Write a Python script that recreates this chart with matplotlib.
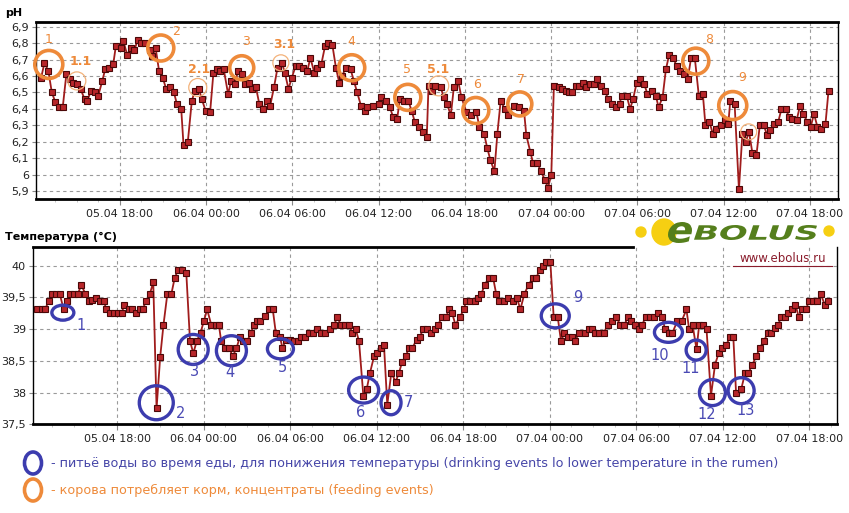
import matplotlib.pyplot as plt
from matplotlib.patches import Ellipse, PathPatch
from matplotlib.textpath import TextPath
from matplotlib.font_manager import FontProperties
from matplotlib.transforms import Affine2D
import numpy as np

plt.rcParams['font.family'] = ['DejaVu Sans']

# hours counted from 05.04 00:00
ph_hours = [12.53, 12.76, 13.03, 13.27, 13.52, 13.77, 14.03, 14.28, 14.53, 14.77, 15.04, 15.27, 15.55, 15.74,
            15.99, 16.27, 16.50, 16.78, 16.98, 17.24, 17.54, 17.72, 18.05, 18.25, 18.51, 18.79, 19.02, 19.25,
            19.50, 19.78, 20.08, 20.26, 20.49, 20.73, 20.98, 21.23, 21.51, 21.76, 21.97, 22.27, 22.43, 22.73,
            23.01, 23.22, 23.50, 23.70, 23.96, 24.28, 24.51, 24.77, 25.00, 25.23, 25.53, 25.74, 25.99, 26.22,
            26.48, 26.73, 26.96, 27.19, 27.47, 27.70, 27.98, 28.21, 28.46, 28.72, 28.97, 29.27, 29.48, 29.73,
            29.96, 30.23, 30.49, 30.76, 31.04, 31.25, 31.53, 31.74, 32.01, 32.27, 32.50, 32.78, 33.03, 33.26,
            33.47, 33.70, 34.05, 34.28, 34.51, 34.77, 35.02, 35.21, 35.58, 36.02, 36.16, 36.50, 36.78, 37.01,
            37.29, 37.48, 37.78, 38.06, 38.29, 38.52, 38.80, 39.10, 39.35, 39.47, 39.72, 39.95, 40.32, 40.53,
            40.76, 41.02, 41.23, 41.53, 41.76, 42.11, 42.45, 42.80, 43.01, 43.33, 43.56, 43.77, 44.05, 44.26,
            44.49, 44.77, 45.02, 45.39, 45.76, 46.11, 46.27, 46.55, 46.74, 47.04, 47.29, 47.55, 47.78, 48.01,
            48.19, 48.52, 48.76, 49.03, 49.25, 49.45, 49.73, 49.97, 50.20, 50.43, 50.67, 50.97, 51.20, 51.48,
            51.72, 51.97, 52.21, 52.48, 52.76, 52.90, 53.25, 53.49, 53.70, 53.95, 54.19, 54.47, 54.70, 54.98,
            55.28, 55.47, 55.75, 55.98, 56.21, 56.49, 56.73, 56.96, 57.26, 57.50, 57.73, 57.99, 58.27, 58.55,
            58.73, 59.01, 59.24, 59.48, 59.83, 60.06, 60.32, 60.46, 60.76, 61.06, 61.30, 61.53, 61.76, 62.00,
            62.28, 62.51, 62.79, 63.02, 63.25, 63.49, 63.79, 64.02, 64.30, 64.56, 64.77, 65.07, 65.31, 65.54,
            65.82, 66.05, 66.28, 66.52, 66.80, 67.08, 67.29]
ph_vals = [6.59, 6.68, 6.63, 6.50, 6.44, 6.41, 6.41, 6.61, 6.58, 6.56, 6.55, 6.52, 6.46, 6.45,
           6.51, 6.50, 6.48, 6.57, 6.64, 6.65, 6.67, 6.78, 6.77, 6.81, 6.73, 6.77, 6.76, 6.82,
           6.80, 6.80, 6.76, 6.72, 6.77, 6.63, 6.59, 6.52, 6.53, 6.50, 6.43, 6.40, 6.18, 6.20,
           6.45, 6.51, 6.52, 6.46, 6.39, 6.38, 6.62, 6.64, 6.63, 6.64, 6.49, 6.57, 6.55, 6.63,
           6.61, 6.55, 6.56, 6.52, 6.53, 6.43, 6.40, 6.45, 6.42, 6.53, 6.65, 6.68, 6.62, 6.52,
           6.59, 6.66, 6.66, 6.65, 6.63, 6.71, 6.62, 6.65, 6.67, 6.78, 6.80, 6.79, 6.65, 6.56,
           6.60, 6.65, 6.64, 6.57, 6.50, 6.42, 6.39, 6.41, 6.42, 6.43, 6.47, 6.45, 6.41, 6.35,
           6.34, 6.46, 6.45, 6.45, 6.39, 6.32, 6.29, 6.26, 6.23, 6.54, 6.51, 6.54, 6.53, 6.47,
           6.43, 6.36, 6.53, 6.57, 6.47, 6.38, 6.36, 6.38, 6.29, 6.25, 6.16, 6.09, 6.02, 6.25,
           6.45, 6.40, 6.36, 6.42, 6.41, 6.39, 6.24, 6.14, 6.07, 6.07, 6.02, 5.97, 5.92, 6.00,
           6.54, 6.53, 6.52, 6.51, 6.50, 6.50, 6.54, 6.54, 6.56, 6.53, 6.55, 6.55, 6.58, 6.54,
           6.51, 6.46, 6.43, 6.41, 6.43, 6.48, 6.48, 6.40, 6.46, 6.56, 6.58, 6.55, 6.49, 6.51,
           6.48, 6.41, 6.47, 6.64, 6.73, 6.71, 6.66, 6.63, 6.61, 6.58, 6.71, 6.71, 6.48, 6.49,
           6.30, 6.32, 6.25, 6.28, 6.30, 6.33, 6.31, 6.45, 6.43, 5.91, 6.25, 6.20, 6.26, 6.13,
           6.12, 6.30, 6.30, 6.24, 6.27, 6.31, 6.32, 6.40, 6.40, 6.35, 6.34, 6.33, 6.42, 6.37,
           6.32, 6.29, 6.37, 6.29, 6.28, 6.31, 6.51]

temp_hours = [12.48, 12.76, 13.03, 13.26, 13.49, 13.75, 14.02, 14.30, 14.53, 14.76, 15.01, 15.29, 15.52, 15.79,
              16.02, 16.28, 16.55, 16.83, 17.08, 17.24, 17.54, 17.82, 18.09, 18.32, 18.51, 18.80, 19.03, 19.31,
              19.59, 19.79, 20.02, 20.28, 20.51, 20.74, 20.99, 21.22, 21.49, 21.77, 22.00, 22.25, 22.53, 22.80,
              23.06, 23.29, 23.52, 23.79, 24.02, 24.25, 24.53, 24.83, 25.06, 25.22, 25.52, 25.79, 26.02, 26.28,
              26.51, 26.74, 27.01, 27.29, 27.47, 27.70, 27.93, 28.28, 28.57, 28.80, 29.01, 29.31, 29.47, 29.70,
              29.98, 30.28, 30.55, 30.78, 31.02, 31.32, 31.59, 31.89, 32.12, 32.42, 32.75, 33.05, 33.28, 33.51,
              33.78, 34.08, 34.32, 34.55, 34.78, 35.08, 35.31, 35.54, 35.82, 36.05, 36.28, 36.51, 36.74, 37.02,
              37.32, 37.55, 37.78, 38.01, 38.24, 38.47, 38.77, 39.00, 39.23, 39.51, 39.79, 40.02, 40.25, 40.55,
              40.82, 41.01, 41.24, 41.47, 41.77, 42.05, 42.21, 42.51, 42.79, 43.02, 43.27, 43.50, 43.78, 44.08,
              44.29, 44.52, 44.82, 45.09, 45.44, 45.74, 45.97, 46.25, 46.55, 46.82, 47.08, 47.31, 47.54, 47.77,
              48.05, 48.28, 48.56, 48.79, 49.02, 49.25, 49.55, 49.78, 50.01, 50.42, 50.70, 50.93, 51.16, 51.44,
              51.74, 52.05, 52.33, 52.60, 52.91, 53.19, 53.42, 53.67, 53.95, 54.19, 54.42, 54.65, 54.93, 55.23,
              55.51, 55.81, 56.00, 56.28, 56.51, 56.86, 57.16, 57.49, 57.67, 57.91, 58.19, 58.37, 58.65, 58.88,
              59.19, 59.47, 59.72, 59.95, 60.23, 60.51, 60.74, 60.93, 61.28, 61.56, 61.79, 62.05, 62.33, 62.56,
              62.84, 63.14, 63.33, 63.60, 63.84, 64.07, 64.30, 64.53, 64.81, 65.05, 65.28, 65.47, 65.77, 66.00,
              66.28, 66.56, 66.79, 67.09, 67.33]
temp_vals = [39.32, 39.32, 39.32, 39.45, 39.56, 39.56, 39.56, 39.31, 39.45, 39.56, 39.56, 39.56, 39.70, 39.56,
             39.45, 39.46, 39.49, 39.45, 39.45, 39.32, 39.26, 39.26, 39.26, 39.26, 39.38, 39.31, 39.32, 39.26,
             39.32, 39.32, 39.45, 39.56, 39.74, 37.75, 38.56, 39.07, 39.56, 39.56, 39.81, 39.94, 39.94, 39.89,
             38.81, 38.62, 38.81, 38.94, 39.13, 39.31, 39.07, 39.07, 39.07, 38.81, 38.70, 38.70, 38.57, 38.70,
             38.87, 38.81, 38.81, 38.94, 39.07, 39.13, 39.13, 39.20, 39.31, 39.31, 38.94, 38.87, 38.70, 38.83,
             38.83, 38.81, 38.81, 38.87, 38.87, 38.94, 38.94, 39.00, 38.94, 38.94, 39.00, 39.07, 39.19, 39.07,
             39.07, 39.07, 38.94, 39.00, 38.81, 37.95, 38.05, 38.31, 38.57, 38.62, 38.70, 38.75, 37.81, 38.31,
             38.17, 38.31, 38.49, 38.57, 38.70, 38.70, 38.83, 38.88, 39.00, 39.00, 38.94, 39.00, 39.07, 39.19,
             39.19, 39.31, 39.25, 39.07, 39.19, 39.31, 39.45, 39.45, 39.45, 39.49, 39.56, 39.70, 39.81, 39.81,
             39.56, 39.45, 39.45, 39.49, 39.45, 39.49, 39.31, 39.56, 39.70, 39.81, 39.81, 39.94, 40.00, 40.06,
             40.06, 39.19, 39.19, 38.81, 38.94, 38.88, 38.88, 38.81, 38.94, 38.94, 39.00, 39.00, 38.94, 38.94,
             38.94, 39.07, 39.13, 39.19, 39.07, 39.07, 39.19, 39.13, 39.07, 39.00, 39.07, 39.19, 39.19, 39.19,
             39.25, 39.19, 39.00, 38.94, 38.94, 39.13, 39.13, 39.31, 39.00, 39.07, 38.68, 39.07, 39.07, 39.00,
             37.95, 38.44, 38.62, 38.70, 38.75, 38.87, 38.87, 37.99, 38.05, 38.31, 38.31, 38.44, 38.57, 38.70,
             38.81, 38.94, 38.94, 39.02, 39.07, 39.19, 39.19, 39.25, 39.31, 39.38, 39.19, 39.31, 39.31, 39.45,
             39.45, 39.45, 39.56, 39.38, 39.45]

tick_hours = [18, 24, 30, 36, 42, 48, 54, 60, 66]
tick_labels = ['05.04 18:00', '06.04 00:00', '06.04 06:00', '06.04 12:00', '06.04 18:00',
               '07.04 00:00', '07.04 06:00', '07.04 12:00', '07.04 18:00']

# feeding events (orange) on pH chart
feed_ids = ['1', '1.1', '2', '2.1', '3', '3.1', '4', '5', '5.1', '6', '7', '8', '9', '']
feed_x = [13.06, 15.01, 20.85, 23.42, 26.48, 29.20, 34.13, 38.03, 40.18, 42.76, 45.82, 58.06, 60.63, 61.74]
feed_y = [6.67, 6.57, 6.77, 6.53, 6.65, 6.68, 6.65, 6.47, 6.54, 6.39, 6.43, 6.69, 6.42, 6.26]
feed_d = [28, 18, 26, 18, 24, 16, 26, 26, 20, 26, 24, 26, 28, 16]
feed_lx = [13.06, 15.29, 21.89, 23.49, 26.76, 29.47, 34.13, 37.96, 40.11, 42.83, 45.89, 58.96, 61.32]
feed_ly = [6.82, 6.69, 6.87, 6.64, 6.81, 6.79, 6.81, 6.64, 6.64, 6.55, 6.58, 6.82, 6.59]

# drinking events (blue) on temperature chart
drink_ids = ['1', '2', '3', '4', '5', '6', '7', '9', '10', '11', '12', '13']
drink_x = [14.24, 20.72, 23.28, 25.93, 29.33, 35.10, 37.00, 48.39, 56.24, 58.16, 59.29, 61.28]
drink_y = [39.26, 37.84, 38.68, 38.66, 38.69, 38.04, 37.84, 39.21, 38.95, 38.67, 38.00, 38.03]
drink_w = [22, 34, 30, 30, 26, 30, 20, 28, 28, 20, 26, 26]
drink_h = [15, 34, 30, 30, 20, 26, 24, 24, 20, 20, 26, 26]
drink_lx = [15.47, 22.40, 23.39, 25.82, 29.45, 34.87, 38.22, 49.96, 55.67, 57.75, 58.90, 61.62]
drink_ly = [39.05, 37.67, 38.34, 38.31, 38.39, 37.69, 37.85, 39.50, 38.58, 38.38, 37.65, 37.71]

W, H = 849, 513
orange = '#ee8a3a'
blue = '#3c3cae'

fig = plt.figure(figsize=(W / 100, H / 100), dpi=100)
ax1 = fig.add_axes([36 / W, 1 - 199.3 / H, 802 / W, 177.6 / H])
ax2 = fig.add_axes([33 / W, 1 - 424.3 / H, 804.3 / W, 177.6 / H])


def style(ax, yticks, ylabels, ylim):
    ax.set_xlim(12.17, 67.95)
    ax.set_ylim(*ylim)
    ax.set_xticks(tick_hours)
    ax.set_xticklabels(tick_labels, fontsize=8, color='#222222')
    ax.set_xticks(np.arange(13.5, 67.9, 1.5), minor=True)
    ax.set_yticks(yticks)
    ax.set_yticklabels(ylabels, fontsize=8, color='#222222')
    ax.tick_params(axis='x', which='major', length=4, pad=3, color='#888888')
    ax.tick_params(axis='x', which='minor', length=2, color='#bbbbbb')
    ax.tick_params(axis='y', length=3, pad=2, color='#888888')
    ax.grid(True, ls=(0, (3, 3)), color='#9a9a9a', lw=0.8)
    ax.set_axisbelow(True)
    for s in ['top', 'bottom']:
        ax.spines[s].set_linewidth(2)
    for s in ['left', 'right']:
        ax.spines[s].set_linewidth(1)


def ring(ax, x, y, w, h, color, lw):
    # w, h in pixels -> data units
    x0, x1 = ax.get_xlim()
    y0, y1 = ax.get_ylim()
    bb = ax.get_position()
    sx = (x1 - x0) / (bb.width * W)
    sy = (y1 - y0) / (bb.height * H)
    ax.add_patch(Ellipse((x, y), w * sx, h * sy, fill=False, ec=color, lw=lw, zorder=5, clip_on=False))


style(ax1, np.round(np.arange(5.9, 6.95, 0.1), 1),
      ['5,9', '6', '6,1', '6,2', '6,3', '6,4', '6,5', '6,6', '6,7', '6,8', '6,9'], (5.85, 6.93))
style(ax2, [37.5, 38, 38.5, 39, 39.5, 40], ['37,5', '38', '38,5', '39', '39,5', '40'], (37.5, 40.3))
ax2.spines['top'].set_bounds(12.17, 53.8)

line_kw = dict(color='#a01c1c', lw=1.3, marker='s', ms=5, mfc='#b8262a', mec='#4a0808', mew=0.8, zorder=3)
ax1.plot(ph_hours, ph_vals, **line_kw)
ax2.plot(temp_hours, temp_vals, **line_kw)

for i in range(len(feed_x)):
    thin = feed_ids[i] == '' or '.' in feed_ids[i]
    ring(ax1, feed_x[i], feed_y[i], feed_d[i], feed_d[i],
         '#f3b27a' if thin else orange, 0.9 if thin else 2.6)
for i in range(len(feed_lx)):
    bold = '.' in feed_ids[i]
    ax1.text(feed_lx[i], feed_ly[i], feed_ids[i], color=orange, fontsize=9,
             fontweight='bold' if bold else 'normal', ha='center', va='center', zorder=6)

for i in range(len(drink_x)):
    ring(ax2, drink_x[i], drink_y[i], drink_w[i], drink_h[i], blue, 2.4)
    ax2.text(drink_lx[i], drink_ly[i], drink_ids[i], color='#4a4ab4', fontsize=10.5,
             ha='center', va='center', zorder=6)

fig.text(5 / W, 1 - 13 / H, 'pH', fontsize=8, fontweight='bold', va='center')
fig.text(5 / W, 1 - 237 / H, 'Температура (°C)', fontsize=8, fontweight='bold', va='center')

# overlay in pixel coordinates for legend and logo
ov = fig.add_axes([0, 0, 1, 1], zorder=10)
ov.set_xlim(0, W)
ov.set_ylim(H, 0)
ov.axis('off')
ov.patch.set_alpha(0)

ov.add_patch(Ellipse((33, 463), 17, 22, fill=False, ec=blue, lw=2.6))
ov.add_patch(Ellipse((33, 490), 17, 22, fill=False, ec=orange, lw=2.6))
ov.text(51, 463, '- питьё воды во время еды, для понижения температуры (drinking events lo lower temperature in the rumen)',
        color='#4646a8', fontsize=9.2, va='center', ha='left')
ov.text(51, 490, '- корова потребляет корм, концентраты (feeding events)',
        color=orange, fontsize=9.2, va='center', ha='left')


def fit_text(s, x0, x1, y0, y1, color):
    tp = TextPath((0, 0), s, size=20, prop=FontProperties(family='DejaVu Sans', weight='bold', style='italic'))
    ext = tp.get_extents()
    sx = (x1 - x0) / ext.width
    sy = (y1 - y0) / ext.height
    tr = Affine2D().translate(-ext.x0, -ext.y0).scale(sx, -sy).translate(x0, y1)
    ov.add_patch(PathPatch(tr.transform_path(tp), color=color, lw=0))


yellow = '#f6cf12'
green = '#557f1c'
ov.add_patch(Ellipse((641, 232), 10, 10, color=yellow))
ov.add_patch(Ellipse((664, 232), 24, 26, color=yellow))
ov.add_patch(Ellipse((829, 231), 10, 10, color=yellow))
fit_text('e', 668, 692, 222, 243, green)
fit_text('BOLUS', 694, 817, 225, 240, green)
ov.text(783, 259, 'www.ebolus.ru', color='#8a1c2c', fontsize=8.5, ha='center', va='center')
ov.plot([733, 832], [266, 266], color='#8a1c2c', lw=0.8)

fig.savefig('out.png', dpi=100)
